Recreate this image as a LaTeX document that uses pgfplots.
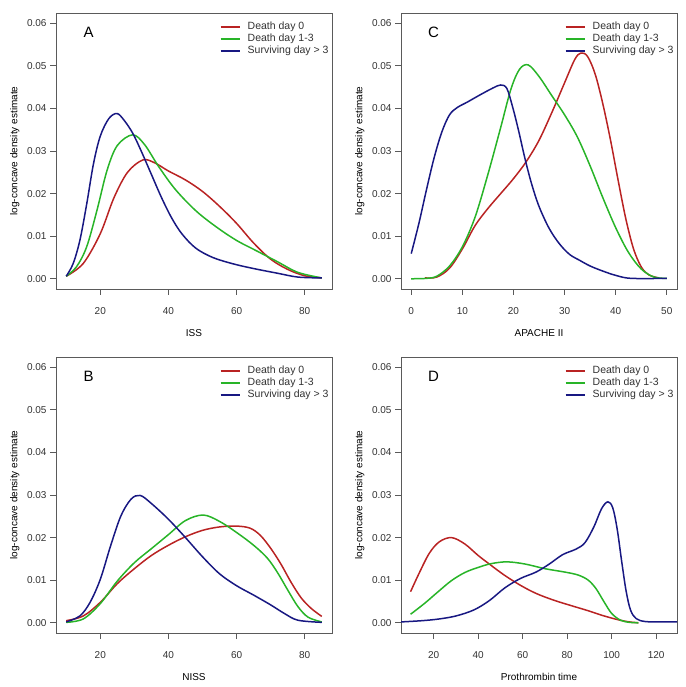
\documentclass[border=0pt]{standalone}
\usepackage{pgfplots}
\pgfplotsset{compat=1.18}
\usepackage{fontspec}
\setmainfont{Liberation Sans}

\definecolor{cred}{RGB}{185,35,35}
\definecolor{cgreen}{RGB}{40,180,40}
\definecolor{cblue}{RGB}{24,24,130}
\definecolor{boxgray}{RGB}{90,90,90}
\definecolor{txt}{RGB}{50,50,50}

\pgfplotsset{
  panel/.style={
    scale only axis, width=276pt, height=276pt,
    anchor=south west,
    ymin=-0.0024, ymax=0.0624,
    ytick={0,0.01,...,0.06},
    scaled y ticks=false,
    yticklabel style={/pgf/number format/fixed, /pgf/number format/fixed zerofill, /pgf/number format/precision=2},
    /pgf/number format/assume math mode=true,
    tick align=outside, major tick length=6pt, tick pos=left,
    axis line style={boxgray, line width=0.7pt},
    tick style={boxgray, line width=0.7pt},
    ticklabel style={font=\fontsize{10}{12}\selectfont, text=txt},
    xticklabel shift=9pt,
    label style={font=\fontsize{10}{12}\selectfont, text=txt},
    every axis y label/.style={at={(axis description cs:-0.149,0.5)}, rotate=90, anchor=center},
    every axis x label/.style={at={(axis description cs:0.5,-0.159)}, anchor=center},
    ylabel={log-concave density estimate},
    legend style={draw=none, fill=none, at={(1,1)}, anchor=north east,
      xshift=-2pt, yshift=-8pt, inner sep=0pt, row sep=0pt, column sep=6pt,
      font=\fontsize{10.5}{12}\selectfont, text=txt,
      nodes={text height=7.5pt, text depth=2pt, inner sep=1.25pt, anchor=west}},
    legend cell align=left,
    legend image code/.code={\draw[#1, line width=1.5pt] (0pt,0pt) -- (19pt,0pt);},
    every axis plot/.append style={line width=1.5pt, smooth, tension=0.55},
  },
}

\begin{document}
\begin{tikzpicture}
\path[use as bounding box] (0,0) rectangle (685pt,687pt);

% ---- A: ISS
\begin{axis}[panel, at={(56pt,398pt)}, xmin=7, xmax=88, xtick={20,40,60,80}, xlabel={ISS}]
  \addplot[cred] coordinates {
    (10,0.0006) (15,0.0036) (20,0.0106) (24,0.0190) (28,0.0250) (32.5,0.0279)
    (36,0.0272) (40,0.0253) (45,0.0232) (50,0.0205) (55,0.0170) (60,0.0130)
    (65,0.0084) (70,0.0046) (75,0.0022) (80,0.0007) (85,0.0002)};
  \addplot[cgreen] coordinates {
    (10,0.0006) (13,0.0028) (16,0.0075) (19,0.0160) (22,0.0255) (25,0.0313) (29.5,0.0338)
    (33,0.0315) (37,0.0265) (42,0.0210) (48,0.0160) (54,0.0122) (60,0.0090)
    (66,0.0065) (72,0.0040) (78,0.0015) (85,0.0002)};
  \addplot[cblue] coordinates {
    (10,0.0006) (12,0.0035) (14,0.0090) (16,0.0175) (18,0.0270) (20,0.0335) (22.5,0.0376) (24.9,0.0388)
    (27,0.0372) (29.5,0.0342) (32,0.0300) (35,0.0245) (38,0.0190) (41,0.0142) (44,0.0105)
    (48,0.0072) (53,0.0050) (59,0.0035) (65,0.0024) (72,0.0013) (78,0.0004) (85,0.0002)};
  \legend{Death day 0, Death day 1-3, Surviving day > 3}
  \node[font=\fontsize{15}{18}\selectfont, text=black] at (rel axis cs:0.118,0.931) {A};
\end{axis}

% ---- C: APACHE II
\begin{axis}[panel, at={(401pt,398pt)}, xmin=-2, xmax=52, xtick={0,10,...,50}, xlabel={APACHE II}]
  \addplot[cred] coordinates {
    (2.7,0.0002) (5,0.0004) (7.5,0.0025) (10,0.0070) (12.5,0.0125) (15,0.0165)
    (17.5,0.0200) (20,0.0235) (22.5,0.0275) (25,0.0325) (27.5,0.0390) (30,0.0460)
    (32,0.0515) (33.2,0.0530) (34.5,0.0522) (36,0.0480) (37.5,0.0410) (39,0.0325)
    (40.5,0.0230) (42,0.0140) (43.5,0.0070) (45,0.0028) (46.5,0.0009) (48.5,0.0002)};
  \addplot[cgreen] coordinates {
    (0,0) (3,0.0001) (5,0.0006) (7.5,0.0030) (10,0.0075) (12.5,0.0145) (15,0.0245)
    (17.5,0.0355) (19.5,0.0445) (21.2,0.0492) (22.9,0.0502) (25,0.0475)
    (27.5,0.0430) (30,0.0385) (32.5,0.0333) (35,0.0265) (37.5,0.0190)
    (40,0.0120) (42.5,0.0062) (45,0.0023) (47.5,0.0004) (50,0.0001)};
  \addplot[cblue] coordinates {
    (0,0.0059) (1.5,0.0130) (3,0.0210) (4.5,0.0285) (6,0.0345) (7.5,0.0385) (9,0.0402)
    (11,0.0415) (13.5,0.0432) (16,0.0448) (17.5,0.0455) (18.7,0.0447) (19.8,0.0405)
    (21,0.0348) (22.2,0.0285) (23.5,0.0225) (25,0.0170) (27,0.0118) (29,0.0082)
    (31,0.0057) (33,0.0043) (35,0.0030) (37.5,0.0018) (40,0.0008) (43,0.0001) (50,0.0001)};
  \legend{Death day 0, Death day 1-3, Surviving day > 3}
  \node[font=\fontsize{15}{18}\selectfont, text=black] at (rel axis cs:0.118,0.931) {C};
\end{axis}

% ---- B: NISS
\begin{axis}[panel, at={(56pt,54pt)}, xmin=7, xmax=88, xtick={20,40,60,80}, xlabel={NISS}]
  \addplot[cred] coordinates {
    (10,0.0005) (15,0.0016) (20,0.0048) (25,0.0092) (30,0.0127) (35,0.0158)
    (40,0.0182) (45,0.0202) (50,0.0217) (55,0.0225) (60,0.0227) (64,0.0222)
    (67,0.0205) (70,0.0175) (73,0.0138) (76,0.0095) (79,0.0058) (82,0.0033) (85,0.0015)};
  \addplot[cgreen] coordinates {
    (10,0.0001) (15,0.0009) (20,0.0045) (25,0.0098) (30,0.0141) (35,0.0174)
    (40,0.0207) (45,0.0240) (50.2,0.0253) (55,0.0238) (60,0.0212)
    (65,0.0182) (69,0.0152) (72,0.0118) (75,0.0077) (78,0.0038)
    (81,0.0013) (85,0.0002)};
  \addplot[cblue] coordinates {
    (10,0.0002) (14,0.0016) (17,0.0048) (20,0.0102) (23,0.0180) (26,0.0250)
    (29,0.0290) (31.7,0.0299) (35,0.0280) (40,0.0243) (45,0.0200)
    (50,0.0155) (55,0.0115) (60,0.0087) (65,0.0065) (70,0.0042)
    (74,0.0022) (78,0.0006) (85,0.0001)};
  \legend{Death day 0, Death day 1-3, Surviving day > 3}
  \node[font=\fontsize{15}{18}\selectfont, text=black] at (rel axis cs:0.118,0.931) {B};
\end{axis}

% ---- D: Prothrombin time
\begin{axis}[panel, at={(401pt,54pt)}, xmin=5.3, xmax=129.4, xtick={20,40,...,120}, xlabel={Prothrombin time}]
  \addplot[cred] coordinates {
    (9.6,0.0073) (13.6,0.0118) (18,0.0163) (22.5,0.0190) (28,0.0200) (34,0.0185)
    (40,0.0158) (46,0.0134) (52,0.0111) (59,0.0088) (66,0.0069)
    (74,0.0053) (82,0.0040) (89,0.0029) (96,0.0017) (103,0.0007) (108,0.0002) (112,0)};
  \addplot[cgreen] coordinates {
    (9.6,0.002) (16,0.0046) (22,0.0073) (28,0.0099) (34,0.0118) (40,0.0130) (46,0.0139)
    (53,0.0143) (61,0.0138) (70,0.0127) (79,0.0119) (85,0.0112)
    (89.5,0.0100) (93,0.0080) (96.5,0.0050) (100,0.0022) (104,0.0006) (108,0.0001) (112,0)};
  \addplot[cblue] coordinates {
    (5.3,0.0002) (15,0.0005) (22.5,0.0009) (30,0.0016) (38,0.0030) (45,0.0052) (52,0.0082)
    (59,0.0104) (66,0.0119) (72,0.0138) (78,0.0160) (84,0.0173)
    (88,0.0188) (92,0.0225) (95.5,0.0268) (98.3,0.0284) (100.5,0.0270) (102.5,0.0220)
    (104.5,0.0145) (106.5,0.0075) (108.5,0.0030) (111,0.0010) (115,0.0003) (122,0.0002) (129.4,0.0002)};
  \legend{Death day 0, Death day 1-3, Surviving day > 3}
  \node[font=\fontsize{15}{18}\selectfont, text=black] at (rel axis cs:0.118,0.931) {D};
\end{axis}
\end{tikzpicture}
\end{document}
